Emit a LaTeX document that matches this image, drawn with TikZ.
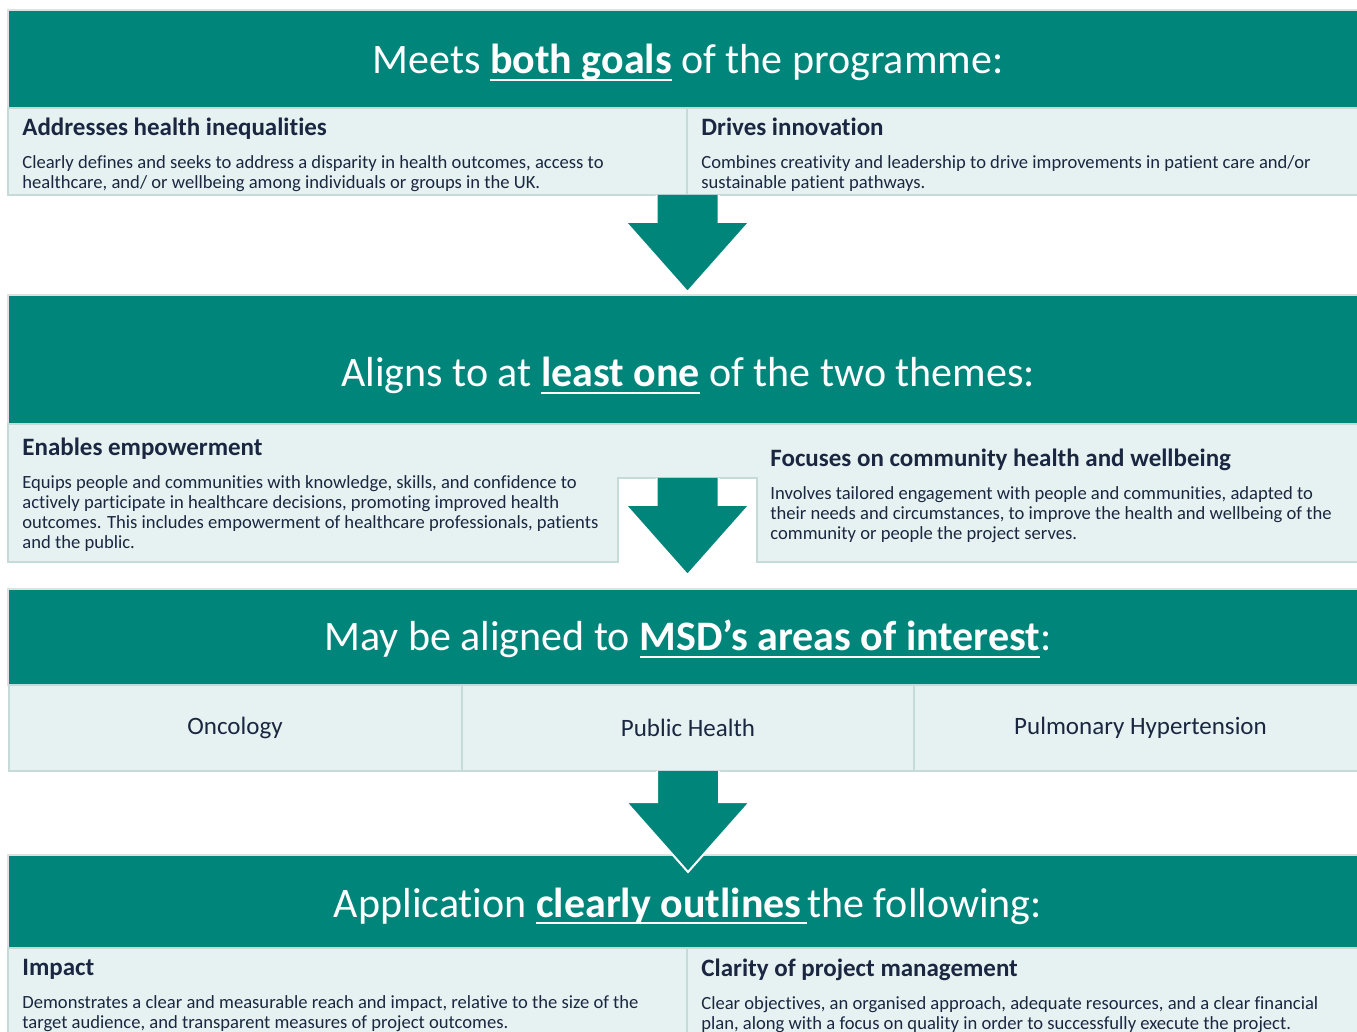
\documentclass[tikz,border=0pt]{standalone}
\usepackage{fontspec}
\setmainfont{Carlito}[Ligatures=NoCommon]
\usetikzlibrary{positioning}
\definecolor{msdteal}{HTML}{00857A}
\definecolor{paneltint}{HTML}{E6F2F1}
\definecolor{panelline}{HTML}{C4DBD8}
\definecolor{ink}{HTML}{1B2740}
\newsavebox{\hlbox}
\newcommand{\hl}[1]{\sbox{\hlbox}{\textbf{#1}}%
  \rlap{\rule[-3.4pt]{\wd\hlbox}{1pt}}\usebox{\hlbox}}
\newcommand{\hd}[1]{{\fontsize{12.5}{14}\selectfont\bfseries #1}}
\newcommand{\flowarrow}[2]{%
  \draw[flowarr] (#1) ++(-31,0) -- ++(0,#2) -- ++(-31,0) -- ++(62,70)
    -- ++(62,-70) -- ++(-31,0) -- ++(0,-#2);}
\tikzset{
  band/.style={fill=msdteal, draw=black!12, line width=0.6pt,
    minimum width=679.5pt, inner sep=0pt, outer sep=0pt},
  bandtitle/.style={anchor=base, text=white, inner sep=0pt,
    font=\fontsize{21}{25}\selectfont},
  panel/.style={fill=paneltint, draw=panelline, line width=1pt,
    inner sep=0pt, outer sep=0pt},
  blurb/.style={anchor=north west, align=left, inner sep=0pt, text=ink,
    font=\fontsize{9.3}{10}\selectfont},
  cell/.style={panel, minimum width=226.5pt, minimum height=43pt, text=ink,
    font=\fontsize{12.5}{15}\selectfont},
  flowarr/.style={fill=msdteal, draw=white, line width=1pt},
}

\begin{document}
\begin{tikzpicture}[x=0.5pt, y=-0.5pt]
\useasboundingbox (0,0) rectangle (1357,1032);

\node[band, minimum height=49pt] (b1) at (687.5,59) {};
\node[bandtitle] (t1) at (688,74) {Meets \hl{both goals} of the programme:};
\node[panel, minimum width=339.5pt, minimum height=43.5pt] (p1a) at (347.5,151.5) {};
\node[panel, minimum width=340pt, minimum height=43.5pt] (p1b) at (1027,151.5) {};
\node[blurb] (x1a) at (22,118) {\hd{Addresses health inequalities}\\[6.5pt]
  Clearly defines and seeks to address a disparity in health outcomes, access to\\
  healthcare, and/ or wellbeing among individuals or groups in the UK.};
\node[blurb] (x1b) at (701,118) {\hd{Drives innovation}\\[6.5pt]
  Combines creativity and leadership to drive improvements in patient care and/or\\
  sustainable patient pathways.};
\coordinate (a1) at (687.5,195);
\flowarrow{a1}{27}

\node[band, minimum height=64.5pt] (b2) at (687.5,359.5) {};
\node[bandtitle] (t2) at (688,387) {Aligns to at \hl{least one} of the two themes:};
\path[panel] (8,424) -- (1367,424) -- (1367,562) -- (757,562) -- (757,478)
  -- (618,478) -- (618,562) -- (8,562) -- cycle;
\node[blurb] (x2a) at (22,438) {\hd{Enables empowerment}\\[6.5pt]
  Equips people and communities with knowledge, skills, and confidence to\\
  actively participate in healthcare decisions, promoting improved health\\
  outcomes. This includes empowerment of healthcare professionals, patients\\
  and the public.};
\node[blurb] (x2b) at (770,449) {\hd{Focuses on community health and wellbeing}\\[6.5pt]
  Involves tailored engagement with people and communities, adapted to\\
  their needs and circumstances, to improve the health and wellbeing of the\\
  community or people the project serves.};
\coordinate (a2) at (687.5,478);
\flowarrow{a2}{27}

\node[band, minimum height=48pt] (b3) at (687.5,637) {};
\node[bandtitle] (t3) at (688,651) {May be aligned to \hl{MSD’s areas of interest}:};
\node[cell] (onc) at (235,728) {Oncology};
\node[cell] (pub) at (688,728) {Public Health};
\node[cell] (pul) at (1140.5,728) {Pulmonary Hypertension};

\node[band, minimum height=46.5pt] (b4) at (687.5,901.5) {};
\node[bandtitle] (t4) at (688,917) {Application \hl{clearly outlines\hspace{3pt}}the following:};
\node[panel, minimum width=339.5pt, minimum height=46pt] (p4a) at (347.5,994) {};
\node[panel, minimum width=340pt, minimum height=46pt] (p4b) at (1027,994) {};
\node[blurb] (x4a) at (22,959) {\hd{Impact}\\[6.5pt]
  Demonstrates a clear and measurable reach and impact, relative to the size of the\\
  target audience, and transparent measures of project outcomes.};
\node[blurb] (x4b) at (701,959) {\hd{Clarity of project management}\\[6.5pt]
  Clear objectives, an organised approach, adequate resources, and a clear financial\\
  plan, along with a focus on quality in order to successfully execute the project.};
\coordinate (a3) at (pub.south);
\flowarrow{a3}{31}
\end{tikzpicture}
\end{document}
